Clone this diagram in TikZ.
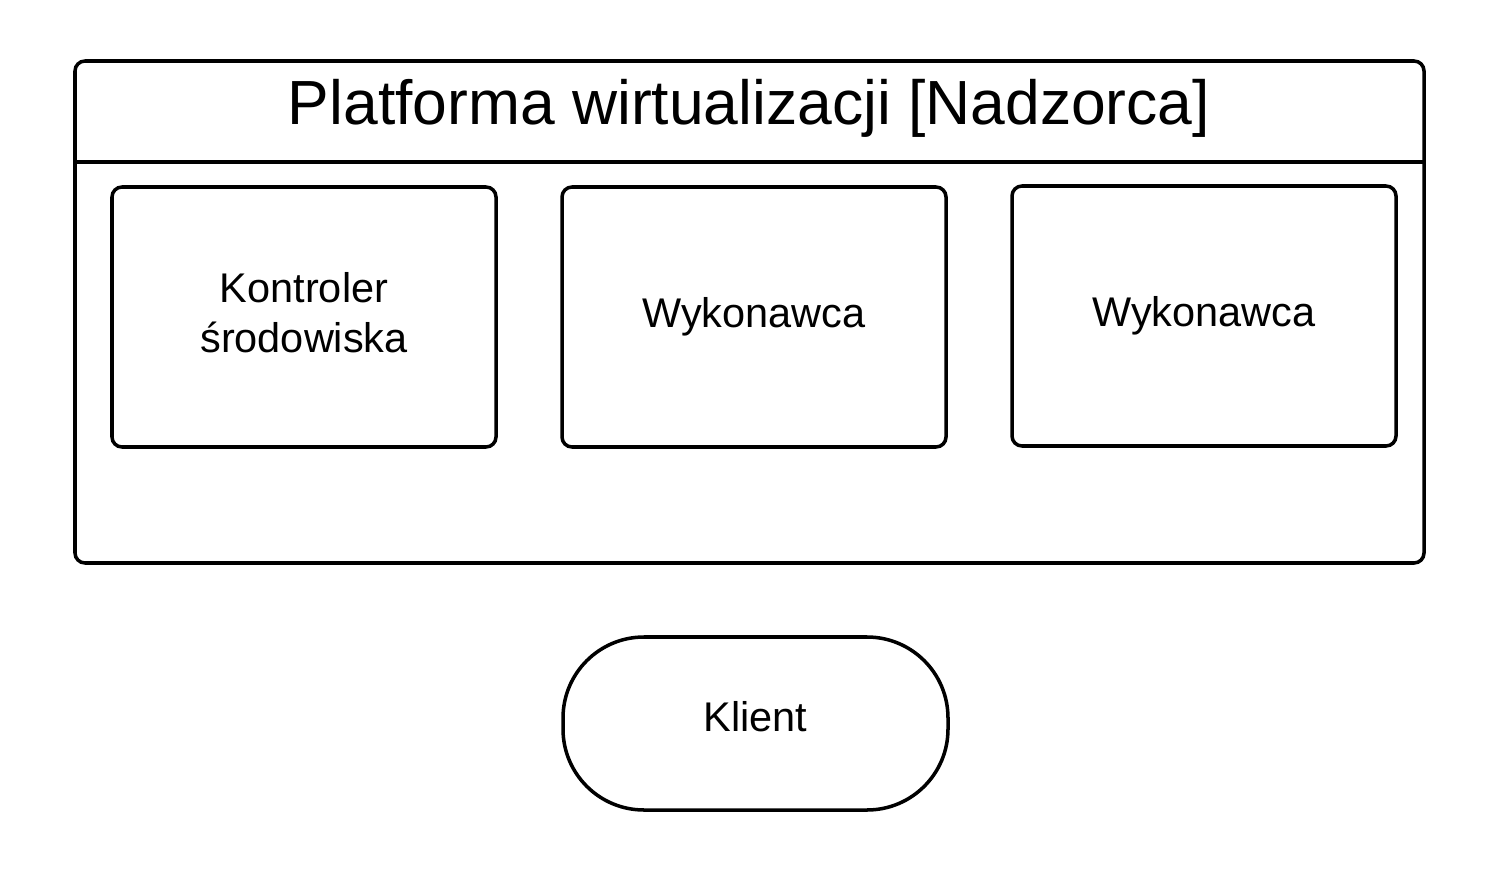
\documentclass[tikz,border=0pt]{standalone}
\usepackage{fontspec}
\setmainfont{Liberation Sans}
\usetikzlibrary{positioning}

\begin{document}
\begin{tikzpicture}[
    frame/.style={draw, line width=2pt, rounded corners=0.2cm, minimum width=26.98cm, minimum height=10.04cm},
    unit/.style={draw, line width=2pt, rounded corners=0.2cm, minimum width=7.68cm, minimum height=5.2cm},
    label/.style={align=center, font=\fontsize{23.6}{28.5}\selectfont},
    client/.style={draw, line width=2pt, rounded corners=1.62cm, minimum width=7.7cm, minimum height=3.46cm}
]
    \useasboundingbox (0,0) rectangle (30,17.74);

    % Platform frame with header
    \node[frame] (platform) at (14.99, 11.5) {};
    \coordinate (hl) at (1.5, 14.5);
    \coordinate (hr) at (28.48, 14.5);
    \draw[line width=2pt] (hl) -- (hr);
    \node[font=\fontsize{35.5}{40}\selectfont] (title) at (14.98, 15.58) {Platforma wirtualizacji [Nadzorca]};

    % Units inside the platform
    \node[unit] (ctrl) at (6.08, 11.4) {};
    \node[unit] (exec1) at (15.08, 11.4) {};
    \node[unit] (exec2) at (24.08, 11.42) {};

    \node[label] (ctrltxt) at ([yshift=0.08cm]ctrl.center) {Kontroler\\środowiska};
    \node[label] (exec1txt) at ([yshift=0.01cm]exec1.center) {Wykonawca};
    \node[label] (exec2txt) at ([yshift=0.01cm]exec2.center) {Wykonawca};

    % Client
    \node[client] (klient) at (15.11, 3.27) {};
    \node[label] (klienttxt) at ([yshift=0.13cm]klient.center) {Klient};
\end{tikzpicture}
\end{document}
